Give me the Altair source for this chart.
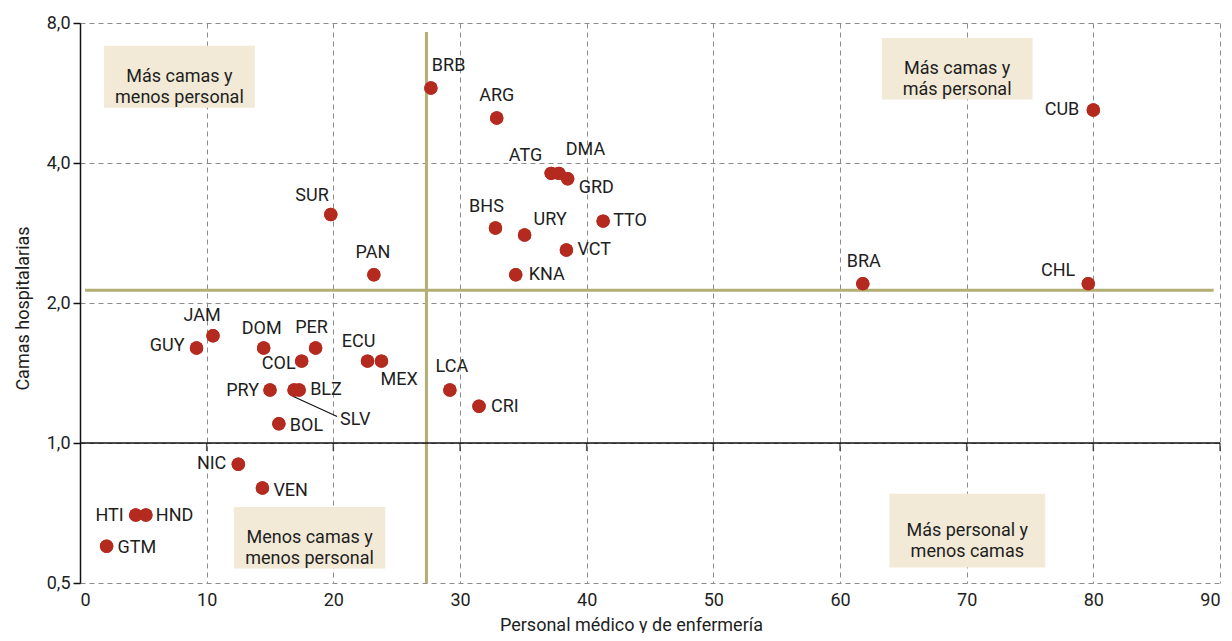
import altair as alt
import pandas as pd

# ---- data ----
countries = ["BRB", "ARG", "CUB", "ATG", "DMA", "GRD", "BHS", "URY", "TTO", "VCT", "KNA",
             "SUR", "PAN", "BRA", "CHL", "JAM", "GUY", "DOM", "PER", "COL", "ECU", "MEX",
             "PRY", "SLV", "BLZ", "BOL", "NIC", "VEN", "HTI", "HND", "GTM", "LCA", "CRI"]
personal = [27.7, 32.9, 80.0, 37.2, 37.8, 38.5, 32.8, 35.1, 41.3, 38.4, 34.4,
            19.8, 23.2, 61.8, 79.6, 10.5, 9.2, 14.5, 18.6, 17.5, 22.7, 23.8,
            15.0, 16.9, 17.3, 15.7, 12.5, 14.4, 4.4, 5.2, 2.1, 29.2, 31.5]
camas = [5.8, 5.0, 5.2, 3.8, 3.8, 3.7, 2.9, 2.8, 3.0, 2.6, 2.3,
         3.1, 2.3, 2.2, 2.2, 1.7, 1.6, 1.6, 1.6, 1.5, 1.5, 1.5,
         1.3, 1.3, 1.3, 1.1, 0.9, 0.8, 0.7, 0.7, 0.6, 1.3, 1.2]

# reference (average) lines
threshold_personal = 27.35
threshold_camas = 2.13
hline_x_range = [0.4, 89.5]
vline_y_range = [0.5, 7.65]

x_ticks = [0, 10, 20, 30, 40, 50, 60, 70, 80, 90]
y_ticks = [0.5, 1.0, 2.0, 4.0, 8.0]

box_text = ["Más camas y\nmenos personal", "Más camas y\nmás personal",
            "Menos camas y\nmenos personal", "Más personal y\nmenos camas"]
box_x1 = [1.9, 63.3, 12.15, 63.9]
box_x2 = [13.8, 75.2, 24.1, 76.2]
box_y1 = [5.26, 5.48, 0.537, 0.540]
box_y2 = [7.15, 7.43, 0.728, 0.778]

# label placement (align, dx, dy) per country
label_place = {
    "BRB": ("left", 1, -22), "ARG": ("center", 0, -22), "CUB": ("right", -14, 0),
    "ATG": ("right", -9, -17), "DMA": ("left", 7, -23), "GRD": ("left", 11, 9),
    "BHS": ("center", -9, -21), "URY": ("left", 9, -15), "TTO": ("left", 10, 0),
    "VCT": ("left", 11, 0), "KNA": ("left", 13, 0), "SUR": ("right", -2, -18),
    "PAN": ("center", -1, -22), "BRA": ("center", 1, -22), "CHL": ("right", -13, -13),
    "JAM": ("center", -11, -20), "GUY": ("right", -12, -2), "DOM": ("center", -2, -19),
    "PER": ("center", -4, -20), "COL": ("right", -6, 3), "ECU": ("center", -9, -19),
    "MEX": ("left", -1, 19), "PRY": ("right", -11, 1), "SLV": ("left", 46, 30),
    "BLZ": ("left", 11, 0), "BOL": ("left", 11, 2), "NIC": ("right", -12, 0),
    "VEN": ("left", 11, 3), "HTI": ("right", -12, 1), "HND": ("left", 10, 1),
    "GTM": ("left", 11, 2), "LCA": ("center", 2, -23), "CRI": ("left", 12, 1),
}
# leader line for SLV (from point to label)
slv_leader = {"x": 16.8, "y": 1.26, "x2": 20.3, "y2": 1.14}

FONT = "Roboto"
FS = 18
RED = "#b42a1f"
OLIVE = "#b3ae74"
BOXFILL = "#f2ead7"
TXT = "#1e1e1e"

df = pd.DataFrame({"pais": countries, "personal": personal, "camas": camas})

xs = alt.Scale(domain=[0, 90], nice=False, zero=False)
ys = alt.Scale(type="log", domain=[0.5, 8], nice=False)

grid_kw = dict(grid=True, gridDash=[5, 4], gridColor="#8c8c8c", gridWidth=1)

x_axis = alt.Axis(values=x_ticks, domain=False, ticks=False, labelPadding=8,
                  labelFontSize=FS, labelFont=FONT, labelColor=TXT,
                  title="Personal médico y de enfermería", titleFont=FONT,
                  titleFontSize=FS, titleFontWeight="normal", titleColor=TXT,
                  titlePadding=7, titleX=551, **grid_kw)
y_axis = alt.Axis(values=y_ticks,
                  labelExpr="replace(format(datum.value, '.1f'), '.', ',')",
                  domain=True, domainColor="#111", domainWidth=1.5,
                  ticks=True, tickSize=7, tickColor="#111", tickWidth=1.5,
                  labelPadding=3, labelFontSize=FS, labelFont=FONT, labelColor=TXT,
                  title="Camas hospitalarias", titleFont=FONT, titleFontSize=FS,
                  titleFontWeight="normal", titleColor=TXT, titlePadding=14,
                  titleY=285, **grid_kw)

points = alt.Chart(df).mark_circle(size=180, color=RED, opacity=1).encode(
    x=alt.X("personal:Q", scale=xs, axis=x_axis),
    y=alt.Y("camas:Q", scale=ys, axis=y_axis),
)

boxes_df = pd.DataFrame({"x1": box_x1, "x2": box_x2, "y1": box_y1, "y2": box_y2,
                         "t": box_text})
boxes_df["xc"] = [(a + b) / 2 for a, b in zip(box_x1, box_x2)]
boxes_df["yc"] = [(a * b) ** 0.5 for a, b in zip(box_y1, box_y2)]

boxes = alt.Chart(boxes_df).mark_rect(color=BOXFILL).encode(
    x=alt.X("x1:Q", scale=xs), x2="x2:Q",
    y=alt.Y("y1:Q", scale=ys), y2="y2:Q",
)
box_labels = alt.Chart(boxes_df).mark_text(
    font=FONT, fontSize=FS, lineHeight=21, lineBreak="\n", color=TXT,
    align="center", baseline="middle"
).encode(
    x=alt.X("xc:Q", scale=xs),
    y=alt.Y("yc:Q", scale=ys),
    text="t:N",
)

hline = alt.Chart(pd.DataFrame({"x": [hline_x_range[0]], "x2": [hline_x_range[1]],
                                "y": [threshold_camas]})).mark_rule(
    color=OLIVE, strokeWidth=3).encode(
    x=alt.X("x:Q", scale=xs), x2="x2:Q",
    y=alt.Y("y:Q", scale=ys))
vline = alt.Chart(pd.DataFrame({"x": [threshold_personal], "y": [vline_y_range[0]],
                                "y2": [vline_y_range[1]]})).mark_rule(
    color=OLIVE, strokeWidth=3).encode(
    x=alt.X("x:Q", scale=xs),
    y=alt.Y("y:Q", scale=ys), y2="y2:Q")

one_line = alt.Chart(pd.DataFrame({"y": [1.0]})).mark_rule(
    color="#111", strokeWidth=1.5).encode(y=alt.Y("y:Q", scale=ys))
one_ticks = alt.Chart(pd.DataFrame({"x": x_ticks[1:], "y": [1.0] * (len(x_ticks) - 1)})).mark_tick(
    orient="vertical", size=8, thickness=1.5, color="#111", yOffset=4).encode(
    x=alt.X("x:Q", scale=xs), y=alt.Y("y:Q", scale=ys))

leader = alt.Chart(pd.DataFrame([slv_leader])).mark_rule(color="#111", strokeWidth=1.2).encode(
    x=alt.X("x:Q", scale=xs), x2="x2:Q",
    y=alt.Y("y:Q", scale=ys), y2="y2:Q")

label_layers = []
for c in countries:
    al, dx, dy = label_place[c]
    label_layers.append(
        alt.Chart(df).transform_filter(alt.datum.pais == c).mark_text(
            font=FONT, fontSize=FS, color=TXT, align=al, baseline="middle",
            dx=dx, dy=dy).encode(
            x=alt.X("personal:Q", scale=xs),
            y=alt.Y("camas:Q", scale=ys),
            text="pais:N")
    )

chart = alt.layer(
    points, boxes, box_labels, hline, vline, one_line, one_ticks, leader,
    points, *label_layers
).properties(
    width=1140, height=560,
    background="white",
    autosize=alt.AutoSizeParams(type="none"),
    padding={"left": 72, "top": 15, "right": 4, "bottom": 50},
).configure_view(strokeWidth=0)

chart.save("out.html", embed_options={"renderer": "svg", "actions": False})
